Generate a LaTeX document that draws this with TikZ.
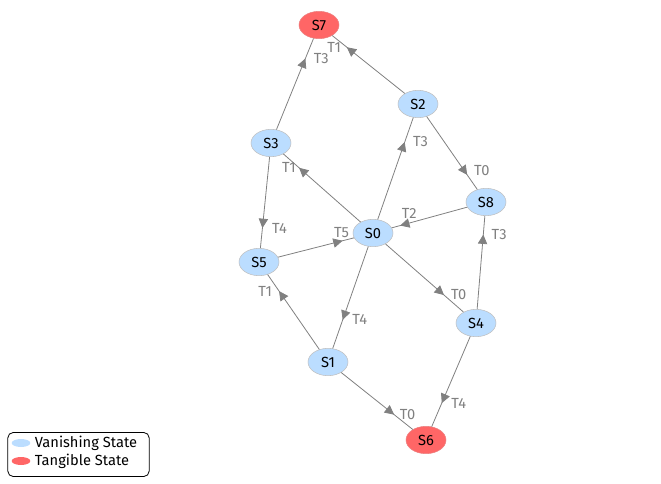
\documentclass[tikz,border=0pt]{standalone}
\usepackage{fontspec}
\setmainfont{Fira Sans}
\usepackage{xcolor}
\usepackage{tikz}
\usetikzlibrary{shapes.geometric,arrows.meta,decorations.markings,positioning}

\definecolor{vanishblue}{RGB}{187,221,255}
\definecolor{tangiblered}{RGB}{255,102,102}
\definecolor{edgegray}{RGB}{128,128,128}
\definecolor{bordergray}{RGB}{192,192,192}

\tikzset{
	vanishing/.style={ellipse,fill=vanishblue,draw=bordergray,minimum width=30pt,minimum height=20.5pt,inner sep=0pt},
	tangible/.style={vanishing,fill=tangiblered,draw=tangiblered!70!bordergray},
	trans/.style={draw=edgegray,line width=0.6pt,postaction={decorate,decoration={markings,mark=at position #1 with {\arrow[edgegray]{Triangle[length=7pt,width=7pt]}}}}},
	lbl/.style={text=edgegray,inner sep=1pt},
	legendbox/.style={draw=black,rounded corners=4pt,line width=0.6pt}
}

\begin{document}
\begin{tikzpicture}[x=0.75pt,y=-0.75pt,font=\fontsize{11}{13}\selectfont]
		\useasboundingbox (0,0) rectangle (661,483);

		% states
		\node[tangible] (S7) at (319,25) {S7};
		\node[vanishing] (S2) at (418,104) {S2};
		\node[vanishing] (S3) at (271,143) {S3};
		\node[vanishing] (S8) at (486,202) {S8};
		\node[vanishing] (S0) at (373,233) {S0};
		\node[vanishing] (S5) at (259,262) {S5};
		\node[vanishing] (S4) at (476,323) {S4};
		\node[vanishing] (S1) at (328,362) {S1};
		\node[tangible] (S6) at (426,440) {S6};

		% transitions
		\draw[trans=0.78] (S3) -- node[lbl,pos=0.78,right=5pt] {T3} (S7);
		\draw[trans=0.80] (S2) -- node[lbl,pos=0.80,left=3pt] {T1} (S7);
		\draw[trans=0.80] (S0) -- node[lbl,pos=0.80,left=1pt] {T1} (S3);
		\draw[trans=0.76] (S0) -- node[lbl,pos=0.76,right=5pt] {T3} (S2);
		\draw[trans=0.80] (S2) -- node[lbl,pos=0.80,above right=-2pt and 4pt] {T0} (S8);
		\draw[trans=0.89] (S8) -- node[lbl,pos=0.89,above right=4pt and 0pt] {T2} (S0);
		\draw[trans=0.78] (S3) -- node[lbl,pos=0.78,right=6pt] {T4} (S5);
		\draw[trans=0.85] (S5) -- node[lbl,pos=0.85,above left=1pt and -6pt] {T5} (S0);
		\draw[trans=0.80] (S4) -- node[lbl,pos=0.80,below right=-5pt and 5pt] {T3} (S8);
		\draw[trans=0.75] (S0) -- node[lbl,pos=0.75,right=4pt] {T0} (S4);
		\draw[trans=0.78] (S1) -- node[lbl,pos=0.78,left=4pt] {T1} (S5);
		\draw[trans=0.72] (S0) -- node[lbl,pos=0.72,right=6pt] {T4} (S1);
		\draw[trans=0.74] (S1) -- node[lbl,pos=0.74,right=3pt] {T0} (S6);
		\draw[trans=0.74] (S4) -- node[lbl,pos=0.74,right=6pt] {T4} (S6);

		% legend
		\node[legendbox,minimum width=106pt,minimum height=33pt] (legend) at (78.5,454.5) {};
		\node[ellipse,fill=vanishblue,minimum width=14pt,minimum height=6pt,inner sep=0pt] (keyV) at (21,443) {};
		\node[ellipse,fill=tangiblered,minimum width=14pt,minimum height=6pt,inner sep=0pt] (keyT) at (21,461) {};
		\node[right=2pt of keyV,inner sep=1pt] (txtV) {Vanishing State};
		\node[right=2pt of keyT,inner sep=1pt] (txtT) {Tangible State};
	\end{tikzpicture}
\end{document}
